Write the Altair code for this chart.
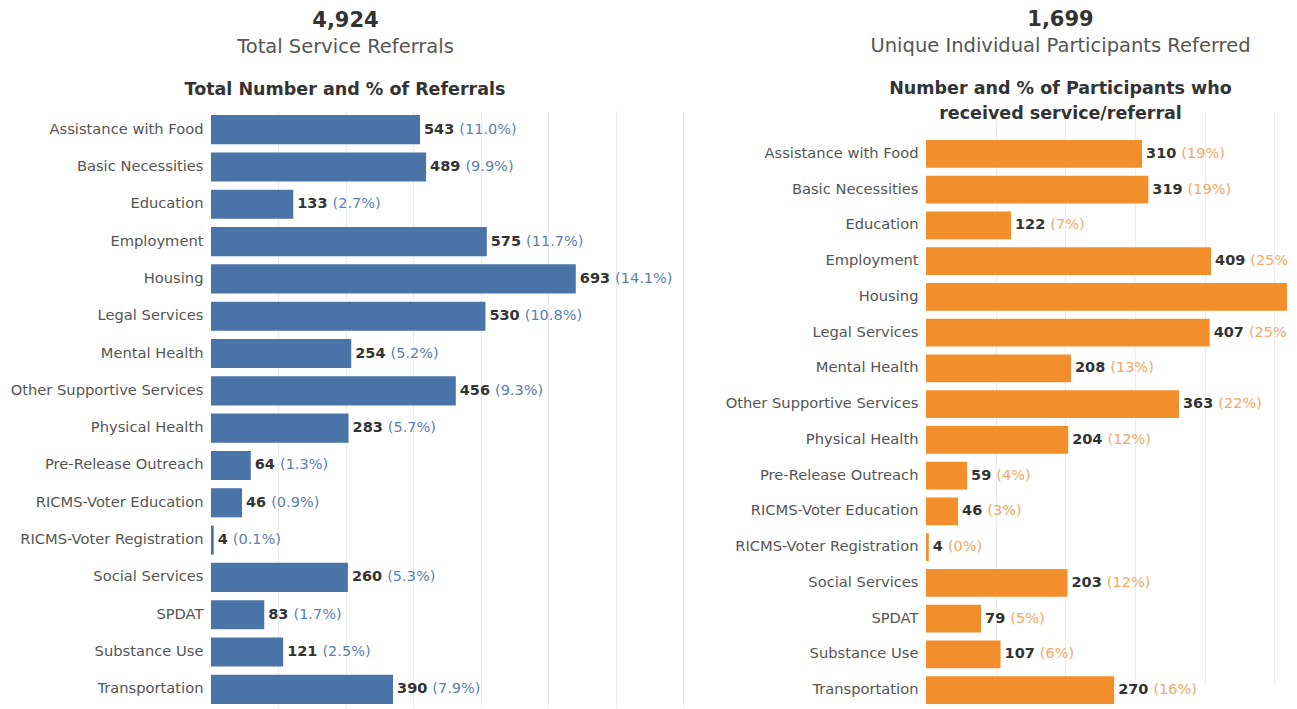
import altair as alt
import pandas as pd

FONT = "DejaVu Sans"

categories = [
    "Assistance with Food", "Basic Necessities", "Education", "Employment",
    "Housing", "Legal Services", "Mental Health", "Other Supportive Services",
    "Physical Health", "Pre-Release Outreach", "RICMS-Voter Education",
    "RICMS-Voter Registration", "Social Services", "SPDAT", "Substance Use",
    "Transportation",
]
referrals = [543, 489, 133, 575, 693, 530, 254, 456, 283, 64, 46, 4, 260, 83, 121, 390]
referral_pct = ["11.0%", "9.9%", "2.7%", "11.7%", "14.1%", "10.8%", "5.2%", "9.3%",
                "5.7%", "1.3%", "0.9%", "0.1%", "5.3%", "1.7%", "2.5%", "7.9%"]
participants = [310, 319, 122, 409, 541, 407, 208, 363, 204, 59, 46, 4, 203, 79, 107, 270]
participant_pct = ["19%", "19%", "7%", "25%", "32%", "25%", "13%", "22%",
                   "12%", "4%", "3%", "0%", "12%", "5%", "6%", "16%"]

grid_left = [100, 200, 300, 400, 500, 600, 700]
grid_right = [100, 200, 300, 400, 500]

df = pd.DataFrame({
    "cat": categories,
    "ref": referrals,
    "part": participants,
    "ref_txt": [str(v) for v in referrals],
    "part_txt": [str(v) for v in participants],
    "ref_pct": ["(" + p + ")" for p in referral_pct],
    "part_pct": ["(" + p + ")" for p in participant_pct],
    "ref_digits": [len(str(v)) for v in referrals],
    "part_digits": [len(str(v)) for v in participants],
})

LABEL_SIZE = 14.7
NUM_SIZE = 14.5
DIGIT_W = 10.1
GAP = 4
SPACE_W = 5.0
PLOT_H = 597


def panel(value_field, text_field, pct_field, digits_field, bar_color, pct_color,
          domain_max, grid_vals, width, extent, y_range_top, title_lines,
          title_dx, title_offset):
    if y_range_top:
        y_scale = alt.Scale(paddingInner=0.22, paddingOuter=0.11,
                            range=[y_range_top, PLOT_H])
    else:
        y_scale = alt.Scale(paddingInner=0.22, paddingOuter=0.11)
    y_enc = alt.Y(
        "cat:N", sort=None, scale=y_scale,
        axis=alt.Axis(title=None, labelFont=FONT, labelFontSize=LABEL_SIZE,
                      labelColor="#555555", ticks=False, domain=False,
                      labelPadding=8, labelLimit=320, minExtent=extent,
                      maxExtent=extent, grid=False),
    )
    x_scale = alt.Scale(domain=[0, domain_max], nice=False, zero=True)
    x_axis = alt.Axis(title=None, labels=False, ticks=False, domain=False,
                      grid=True, gridColor="#ececec", values=grid_vals)
    x_enc = alt.X(f"{value_field}:Q", scale=x_scale, axis=x_axis)
    base = alt.Chart(df).encode(y=y_enc, x=x_enc)
    bars = base.mark_bar(color=bar_color, clip=True)
    num = base.mark_text(align="left", baseline="middle", dx=GAP, font=FONT,
                         fontSize=NUM_SIZE, fontWeight="bold", color="#333333",
                         clip=True).encode(text=f"{text_field}:N")
    layers = [bars, num]
    for d in (1, 2, 3):
        layers.append(
            base.transform_filter(alt.datum[digits_field] == d).mark_text(
                align="left", baseline="middle", dx=GAP + d * DIGIT_W + SPACE_W,
                font=FONT, fontSize=NUM_SIZE, color=pct_color, clip=True
            ).encode(text=f"{pct_field}:N")
        )
    return alt.layer(*layers).properties(
        width=width, height=PLOT_H,
        title=alt.TitleParams(title_lines, font=FONT, fontSize=17.5, fontWeight="bold",
                              color="#333333", anchor="middle", offset=title_offset,
                              lineHeight=25, dx=title_dx),
    )


left_panel = panel("part", "ref_txt", "ref_pct", "ref_digits", "#4a74a8", "#5b7fae",
                   700, grid_left, 472, 211, 0,
                   "Total Number and % of Referrals", -102, 13)
right_panel = panel("part", "part_txt", "part_pct", "part_digits", "#f28e2b", "#f3a866",
                    518, grid_right, 361, 204, 25,
                    ["Number and % of Participants who", "received service/referral"],
                    -46, -11)


def header(number, caption, dx):
    return alt.TitleParams(number, subtitle=caption, font=FONT,
                           fontSize=21, fontWeight="bold", color="#333333",
                           subtitleFont=FONT, subtitleFontSize=19.5,
                           subtitleColor="#555555", subtitlePadding=7.5,
                           anchor="middle", offset=24, dx=dx)


left = alt.vconcat(left_panel).properties(title=header("4,924", "Total Service Referrals", 4))
right = alt.vconcat(right_panel).properties(
    title=header("1,699", "Unique Individual Participants Referred", 56))

chart = alt.hconcat(left, right, spacing=39).properties(
    padding={"left": 0, "top": 8, "right": 0, "bottom": 0},
    background="white",
).configure_view(stroke=None)

chart.save("out.html", embed_options={"renderer": "svg", "actions": False})
